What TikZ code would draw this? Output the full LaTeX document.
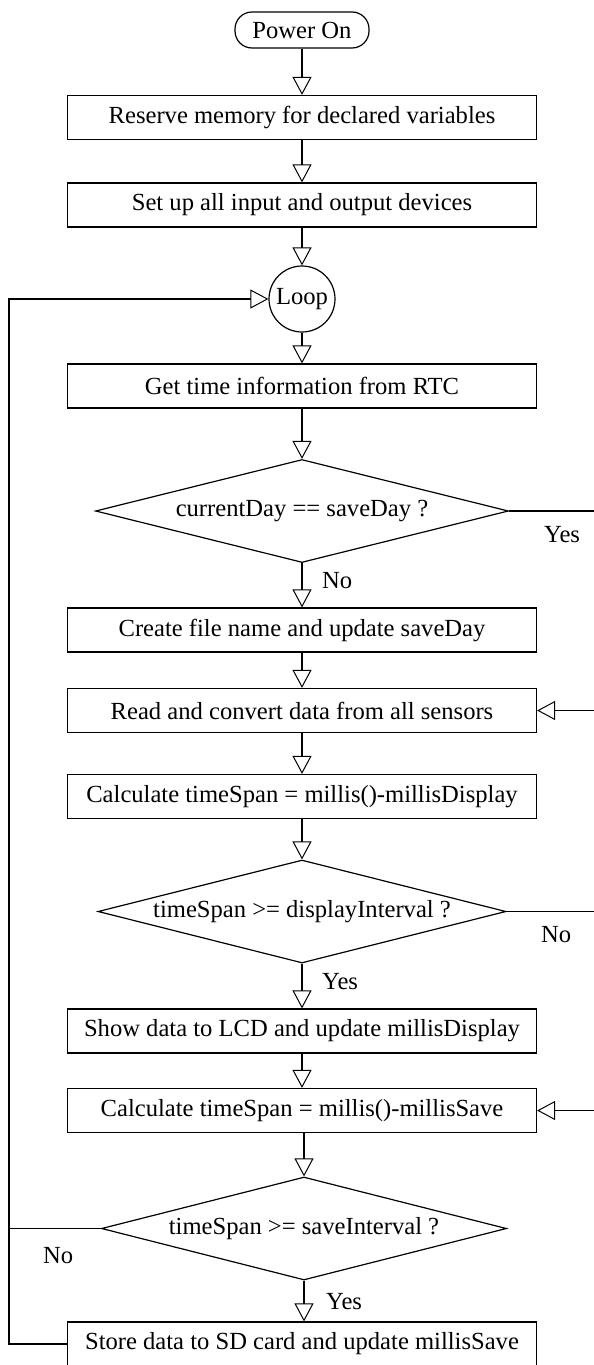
\documentclass[tikz,border=0pt]{standalone}
\usepackage{fontspec}
\setmainfont{Liberation Serif}
\usetikzlibrary{shapes.geometric,arrows.meta}
\begin{document}
\begin{tikzpicture}[x=1pt,y=-1pt,
  every node/.style={font=\fontsize{24.6}{28}\selectfont},
  procbox/.style={draw, line width=1.2pt, rectangle, minimum width=469pt, minimum height=44pt, inner sep=0pt},
  termbox/.style={draw, line width=1.2pt, rectangle, rounded corners=17pt, minimum width=134pt, minimum height=36pt, inner sep=0pt},
  loopcirc/.style={draw, line width=1.2pt, circle, minimum size=66pt, inner sep=0pt},
  decbox/.style={draw, line width=1.2pt, diamond, aspect=4, inner sep=0pt, minimum height=103pt},
  lbl/.style={inner sep=0pt, anchor=west},
  conn/.style={line width=1.2pt},
  arr/.style={line width=1.5pt, -{Triangle[open, length=18pt, width=19pt, line width=1pt]}},
  harr/.style={line width=1.2pt, -{Triangle[open, length=18pt, width=19pt, line width=1pt]}}
]
\clip (0,0) rectangle (594,1365);
\coordinate (lft) at (9,0);
\coordinate (rgt) at (596,0);

\node[termbox] (pon) at (302,30) {Power On};
\node[procbox] (b1) at (302,117.5) {Reserve memory for declared variables};
\node[procbox] (b2) at (302,205) {Set up all input and output devices};
\node[loopcirc] (loop) at (302,299) {Loop};
\node[procbox] (b3) at (302,386) {Get time information from RTC};
\node[decbox, minimum width=413pt] (d1) at (302,511) {currentDay == saveDay ?};
\node[procbox] (b4) at (302,630) {Create file name and update saveDay};
\node[procbox] (b5) at (302,710.5) {Read and convert data from all sensors};
\node[procbox] (b6) at (302,796.5) {Calculate timeSpan = millis()-millisDisplay};
\node[decbox, minimum width=408pt] (d2) at (302,911.5) {timeSpan >= displayInterval ?};
\node[procbox] (b7) at (302,1031) {Show data to LCD and update millisDisplay};
\node[procbox] (b8) at (302,1110.5) {Calculate timeSpan = millis()-millisSave};
\node[decbox, minimum width=405pt] (d3) at (304,1228.5) {timeSpan >= saveInterval ?};
\node[procbox] (b9) at (302,1344) {Store data to SD card and update millisSave};

\node[lbl] (yes1) at (544,535) {Yes};
\node[lbl] (no1) at (322,581) {No};
\node[lbl] (no2) at (541,935) {No};
\node[lbl] (yes2) at (322,982) {Yes};
\node[lbl] (yes3) at (326,1302) {Yes};
\node[lbl] (no3) at (43,1256) {No};

\draw[arr] (pon) -- (b1);
\draw[arr] (b1) -- (b2);
\draw[arr] (b2) -- (loop);
\draw[arr] (loop) -- (b3);
\draw[arr] (b3) -- (d1);
\draw[arr] (d1) -- (b4);
\draw[arr] (b4) -- (b5);
\draw[arr] (b5) -- (b6);
\draw[arr] (b6) -- (d2);
\draw[arr] (d2.south) -- (b7);
\draw[arr] (b7) -- (b8);
\draw[arr] (b8.south -| d3.north) -- (d3.north);
\draw[arr] (d3.south) -- (d3.south |- b9.north);

\draw[conn] (d1.east) -- (d1.east -| rgt);
\draw[harr] (b5.east -| rgt) -- (b5.east);
\draw[conn] (d2.east) -- (d2.east -| rgt);
\draw[harr] (b8.east -| rgt) -- (b8.east);

\draw[conn] (d3.west) -- (d3.west -| lft);
\draw[harr] (b9.west) -- (b9.west -| lft) -- (loop.west -| lft) -- (loop.west);
\end{tikzpicture}
\end{document}
